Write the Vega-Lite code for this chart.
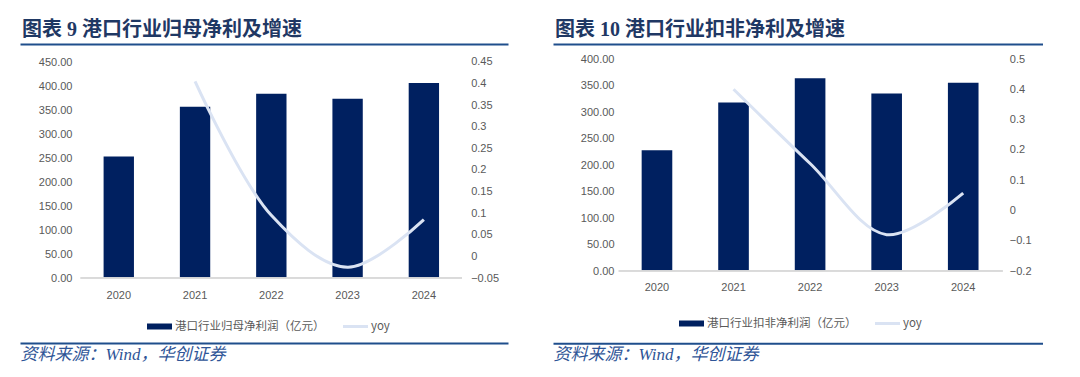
{
  "$schema": "https://vega.github.io/schema/vega-lite/v6.json",
  "background": "white",
  "padding": {"left": 20, "top": 20, "right": 0, "bottom": 0},
  "bounds": "flush",
  "spacing": 45,
  "config": {
    "view": {"stroke": null},
    "axis": {"labelFont": "Liberation Sans", "labelFontSize": 11, "labelColor": "#595959", "grid": false, "ticks": false, "tickSize": 0},
    "legend": {"labelFont": "Noto Sans CJK SC", "labelFontSize": 11.5, "labelColor": "#595959"}
  },
  "resolve": {"scale": {"color": "independent"}, "legend": {"color": "independent"}},
  "hconcat": [
    {
      "width": 488,
      "height": 219,
      "title": {"text": "图表 9 港口行业归母净利及增速", "anchor": "start", "frame": "group", "offset": 4, "dx": 2, "font": "Liberation Serif, Noto Sans CJK SC", "fontSize": 20, "fontWeight": "bold", "color": "#1F3864"},
      "data": {"values": [
        {"year": "2020", "profit": 253, "yoy": null},
        {"year": "2021", "profit": 357, "yoy": 0.405},
        {"year": "2022", "profit": 384, "yoy": 0.095},
        {"year": "2023", "profit": 373.5, "yoy": -0.025},
        {"year": "2024", "profit": 406, "yoy": 0.085}
      ]},
      "layer": [
        {
          "mark": {"type": "bar"},
          "encoding": {
            "x": {"field": "year", "type": "ordinal", "scale": {"paddingInner": 0.602, "paddingOuter": 1.037, "align": 0.548},
              "axis": {"orient": "bottom", "title": null, "domain": false, "labelAngle": 0, "labelPadding": 11}},
            "y": {"field": "profit", "type": "quantitative", "scale": {"domain": [0, 456.25], "nice": false},
              "axis": {"orient": "left", "offset": -63, "values": [0, 50, 100, 150, 200, 250, 300, 350, 400, 450], "format": ".2f", "domain": false, "labelPadding": 11, "title": null}},
            "color": {"datum": "港口行业归母净利润（亿元）", "type": "nominal",
              "scale": {"domain": ["港口行业归母净利润（亿元）", "yoy"], "range": ["#002060", "#DAE3F3"]},
              "legend": {"orient": "none", "legendX": 127, "legendY": 255, "direction": "horizontal", "title": null,
                "symbolType": "M-1,-0.24H1V0.24H-1Z", "symbolSize": 625, "symbolStrokeWidth": 0, "labelOffset": 3, "columnPadding": 18, "labelLimit": 300,
                "encode": {"symbols": {"update": {"shape": {"signal": "datum.value === 'yoy' ? 'M-1,-0.12H1V0.12H-1Z' : 'M-1,-0.24H1V0.24H-1Z'"}}}}}}
          }
        },
        {
          "transform": [{"filter": "datum.yoy != null"}],
          "mark": {"type": "line", "interpolate": "catmull-rom", "strokeWidth": 3, "color": "#DAE3F3"},
          "encoding": {
            "x": {"field": "year", "type": "ordinal",
              "axis": {"orient": "top", "labels": false, "domainColor": "#1F4E8C", "domainWidth": 2, "offset": 15, "title": null}},
            "y": {"field": "yoy", "type": "quantitative", "scale": {"domain": [-0.05, 0.4569], "nice": false},
              "axis": {"orient": "right", "offset": -48, "values": [-0.05, 0, 0.05, 0.1, 0.15, 0.2, 0.25, 0.3, 0.35, 0.4, 0.45], "format": ".2~f", "domain": false, "labelPadding": 10.7, "title": null}}
          }
        },
        {
          "mark": {"type": "rule", "color": "#D9D9D9", "strokeWidth": 1},
          "encoding": {
            "x": {"datum": "2020", "type": "ordinal", "bandPosition": -0.757,
              "axis": {"orient": "bottom", "offset": 65, "labels": false, "domainColor": "#1F4E8C", "domainWidth": 2,
                "title": "资料来源：Wind，华创证券", "titleAnchor": "start", "titleAlign": "left", "titlePadding": 3, "titleBaseline": "top",
                "titleFont": "Liberation Serif, Noto Sans CJK SC", "titleFontStyle": "italic", "titleFontWeight": "normal", "titleFontSize": 17, "titleColor": "#2F5597"}},
            "x2": {"datum": "2024", "bandPosition": 1.757},
            "y": {"datum": 0, "type": "quantitative", "scale": {"domain": [0, 1]}, "axis": null}
          }
        }
      ],
      "resolve": {"scale": {"y": "independent"}, "axis": {"x": "independent", "y": "independent"}}
    },
    {
      "width": 490,
      "height": 212,
      "title": {"text": "图表 10 港口行业扣非净利及增速", "anchor": "start", "frame": "group", "offset": 4, "dx": 2, "font": "Liberation Serif, Noto Sans CJK SC", "fontSize": 20, "fontWeight": "bold", "color": "#1F3864"},
      "data": {"values": [
        {"year": "2020", "profit": 228, "yoy": null},
        {"year": "2021", "profit": 318, "yoy": 0.4},
        {"year": "2022", "profit": 363.5, "yoy": 0.155},
        {"year": "2023", "profit": 335, "yoy": -0.08},
        {"year": "2024", "profit": 355, "yoy": 0.057}
      ]},
      "layer": [
        {
          "mark": {"type": "bar"},
          "encoding": {
            "x": {"field": "year", "type": "ordinal", "scale": {"paddingInner": 0.6, "paddingOuter": 1.067, "align": 0.579},
              "axis": {"orient": "bottom", "title": null, "domain": false, "labelAngle": 0, "labelPadding": 10.5}},
            "y": {"field": "profit", "type": "quantitative", "scale": {"domain": [0, 400], "nice": false},
              "axis": {"orient": "left", "offset": -70.3, "values": [0, 50, 100, 150, 200, 250, 300, 350, 400], "format": ".2f", "domain": false, "labelPadding": 9.3, "title": null}},
            "color": {"datum": "港口行业扣非净利润（亿元）", "type": "nominal",
              "scale": {"domain": ["港口行业扣非净利润（亿元）", "yoy"], "range": ["#002060", "#DAE3F3"]},
              "legend": {"orient": "none", "legendX": 126, "legendY": 252, "direction": "horizontal", "title": null,
                "symbolType": "M-1,-0.24H1V0.24H-1Z", "symbolSize": 625, "symbolStrokeWidth": 0, "labelOffset": 3, "columnPadding": 18, "labelLimit": 300,
                "encode": {"symbols": {"update": {"shape": {"signal": "datum.value === 'yoy' ? 'M-1,-0.12H1V0.12H-1Z' : 'M-1,-0.24H1V0.24H-1Z'"}}}}}}
          }
        },
        {
          "transform": [{"filter": "datum.yoy != null"}],
          "mark": {"type": "line", "interpolate": "catmull-rom", "strokeWidth": 3, "color": "#DAE3F3"},
          "encoding": {
            "x": {"field": "year", "type": "ordinal",
              "axis": {"orient": "top", "labels": false, "domainColor": "#1F4E8C", "domainWidth": 2, "offset": 15, "title": null}},
            "y": {"field": "yoy", "type": "quantitative", "scale": {"domain": [-0.2, 0.5], "nice": false},
              "axis": {"orient": "right", "offset": -43.7, "values": [-0.2, -0.1, 0, 0.1, 0.2, 0.3, 0.4, 0.5], "format": ".1~f", "domain": false, "labelPadding": 10, "title": null}}
          }
        },
        {
          "mark": {"type": "rule", "color": "#D9D9D9", "strokeWidth": 1},
          "encoding": {
            "x": {"datum": "2020", "type": "ordinal", "bandPosition": -0.747,
              "axis": {"orient": "bottom", "offset": 72.3, "labels": false, "domainColor": "#1F4E8C", "domainWidth": 2,
                "title": "资料来源：Wind，华创证券", "titleAnchor": "start", "titleAlign": "left", "titlePadding": 3, "titleBaseline": "top",
                "titleFont": "Liberation Serif, Noto Sans CJK SC", "titleFontStyle": "italic", "titleFontWeight": "normal", "titleFontSize": 17, "titleColor": "#2F5597"}},
            "x2": {"datum": "2024", "bandPosition": 1.787},
            "y": {"datum": 0, "type": "quantitative", "scale": {"domain": [0, 1]}, "axis": null}
          }
        }
      ],
      "resolve": {"scale": {"y": "independent"}, "axis": {"x": "independent", "y": "independent"}}
    }
  ]
}
